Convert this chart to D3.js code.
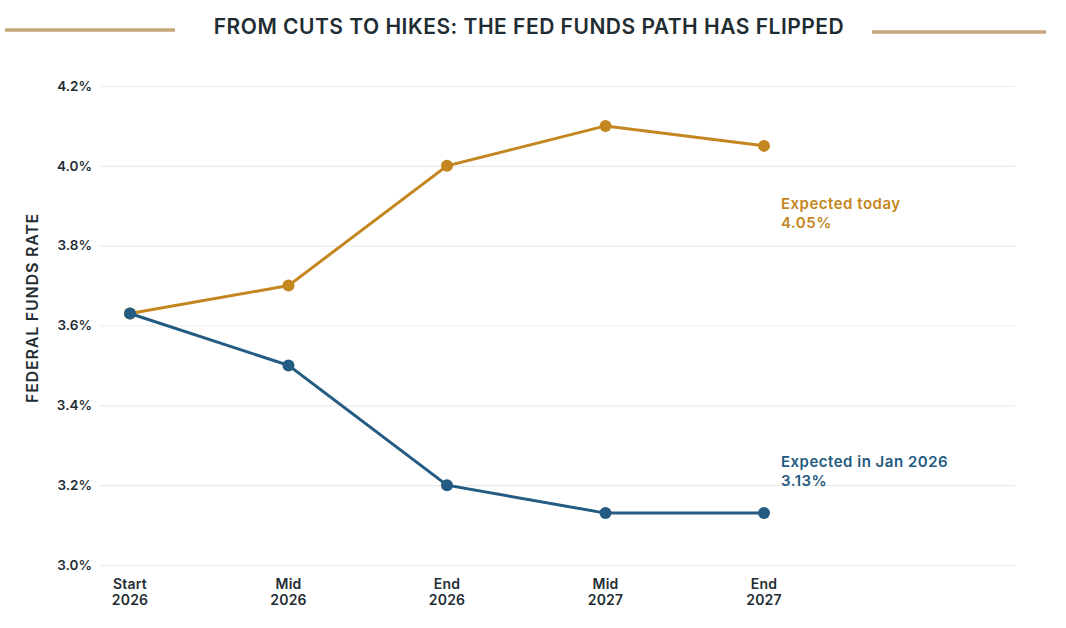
<!DOCTYPE html>
<html>
<head>
<meta charset="utf-8">
<script src="https://cdn.jsdelivr.net/npm/d3@7"></script>
<style>
  body { margin: 0; background: #fff; }
  svg { display: block; font-family: "Inter", "Lato", sans-serif; }
</style>
</head>
<body>
<svg id="chart" width="1066" height="628"></svg>
<script>
const periods = ["Start 2026", "Mid 2026", "End 2026", "Mid 2027", "End 2027"];
const expectedToday = [3.63, 3.70, 4.00, 4.10, 4.05];
const expectedJan = [3.63, 3.50, 3.20, 3.13, 3.13];
const yTicks = [3.0, 3.2, 3.4, 3.6, 3.8, 4.0, 4.2];

const ORANGE = "#c4861e";
const BLUE = "#245b82";
const INK = "#1f2d33";

const width = 1066;
const height = 628;
const gridLeft = 100;
const gridRight = 1015;

const svg = d3.select("#chart");

const x = d3.scaleLinear().domain([0, periods.length - 1]).range([130, 764]);
const y = d3.scaleLinear().domain([3.0, 4.2]).range([565, 86]);

// title with rules either side
svg.append("line")
  .attr("x1", 5).attr("x2", 175).attr("y1", 30).attr("y2", 30)
  .attr("stroke", "#c4a57a").attr("stroke-width", 3.5);
svg.append("line")
  .attr("x1", 872).attr("x2", 1046).attr("y1", 32).attr("y2", 32)
  .attr("stroke", "#c4a57a").attr("stroke-width", 3.5);
svg.append("text")
  .attr("x", 529).attr("y", 34)
  .attr("text-anchor", "middle")
  .attr("fill", INK)
  .attr("font-size", 21)
  .attr("font-weight", 600)
  .attr("letter-spacing", 0.5)
  .text("FROM CUTS TO HIKES: THE FED FUNDS PATH HAS FLIPPED");

// grid + y labels
const yAxis = svg.append("g")
  .attr("transform", `translate(${gridLeft},0)`)
  .call(d3.axisLeft(y)
    .tickValues(yTicks)
    .tickSize(-(gridRight - gridLeft))
    .tickPadding(8)
    .tickFormat(d => d3.format(".1f")(d) + "%"));
yAxis.select(".domain").remove();
yAxis.selectAll(".tick line").attr("stroke", "#ebebeb").attr("stroke-width", 1.2);
yAxis.selectAll(".tick text")
  .attr("fill", INK)
  .attr("font-size", 13.5)
  .attr("font-weight", 600)
  .attr("font-family", "Inter, sans-serif");

svg.append("text")
  .attr("transform", "translate(38,308) rotate(-90)")
  .attr("text-anchor", "middle")
  .attr("fill", INK)
  .attr("font-size", 16)
  .attr("font-weight", 600)
  .attr("letter-spacing", 0.8)
  .text("FEDERAL FUNDS RATE");

// x labels, two lines each
const xAxis = svg.append("g").attr("class", "x-labels");
periods.forEach((p, i) => {
  const parts = p.split(" ");
  const t = xAxis.append("text")
    .attr("x", x(i)).attr("y", 589)
    .attr("text-anchor", "middle")
    .attr("fill", INK)
    .attr("font-size", 14)
    .attr("font-weight", 600)
    .attr("letter-spacing", 0.2);
  t.append("tspan").attr("x", x(i)).text(parts[0]);
  t.append("tspan").attr("x", x(i)).attr("dy", 16).text(parts[1]);
});

// lines
const line = d3.line().x((d, i) => x(i)).y(d => y(d));

function drawSeries(values, color) {
  svg.append("path")
    .datum(values)
    .attr("d", line)
    .attr("fill", "none")
    .attr("stroke", color)
    .attr("stroke-width", 3);
  svg.append("g").selectAll("circle")
    .data(values)
    .join("circle")
    .attr("cx", (d, i) => x(i))
    .attr("cy", d => y(d))
    .attr("r", 6)
    .attr("fill", color);
}
drawSeries(expectedToday, ORANGE);
drawSeries(expectedJan, BLUE);

// end labels
function endLabel(title, value, color, yPos) {
  const t = svg.append("text")
    .attr("x", 781).attr("y", yPos)
    .attr("fill", color)
    .attr("font-size", 15)
    .attr("font-weight", 600)
    .attr("letter-spacing", 0.5);
  t.append("tspan").attr("x", 781).text(title);
  t.append("tspan").attr("x", 781).attr("dy", 18.5).text(d3.format(".2f")(value) + "%");
}
endLabel("Expected today", expectedToday[4], ORANGE, 209);
endLabel("Expected in Jan 2026", expectedJan[4], BLUE, 467);
</script>
</body>
</html>
